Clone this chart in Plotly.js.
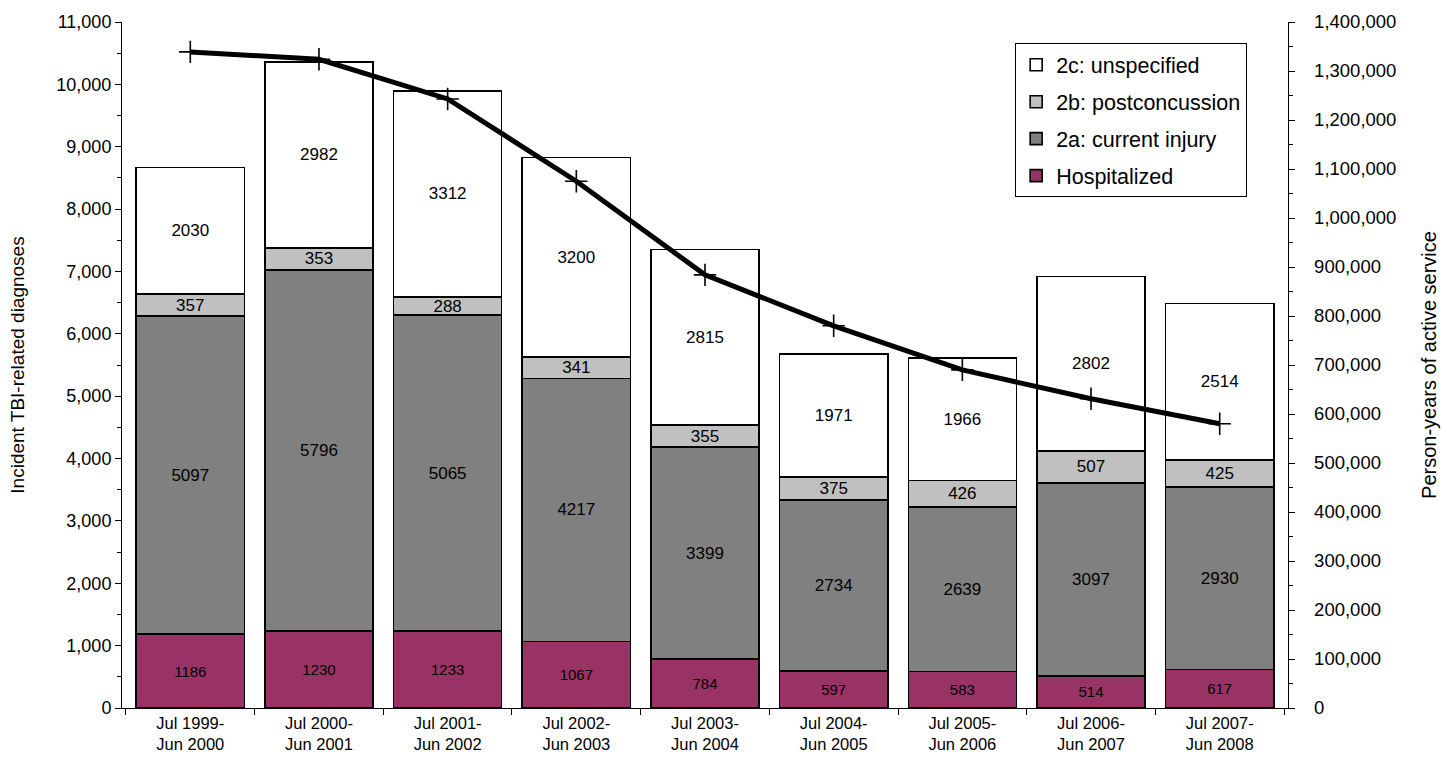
<!DOCTYPE html>
<html>
<head>
<meta charset="utf-8">
<script src="https://cdn.plot.ly/plotly-3.0.1.min.js"></script>
<style>html,body{margin:0;padding:0;background:#fff;}#chart{width:1442px;height:763px;}</style>
</head>
<body>
<div id="chart"></div>
<script>
var categories = ["Jul 1999-<br>Jun 2000","Jul 2000-<br>Jun 2001","Jul 2001-<br>Jun 2002","Jul 2002-<br>Jun 2003","Jul 2003-<br>Jun 2004","Jul 2004-<br>Jun 2005","Jul 2005-<br>Jun 2006","Jul 2006-<br>Jun 2007","Jul 2007-<br>Jun 2008"];
var hospitalized = [1186,1230,1233,1067,784,597,583,514,617];
var currentInjury = [5097,5796,5065,4217,3399,2734,2639,3097,2930];
var postconcussion = [357,353,288,341,355,375,426,507,425];
var unspecified = [2030,2982,3312,3200,2815,1971,1966,2802,2514];
var personYears = [1339000,1324000,1243000,1075000,884000,780000,690000,631000,580000];

var font = "Liberation Sans, Arial, sans-serif";
function barTrace(name, vals, color, fs, grp, rank){
  return {
    type:'bar', name:name, x:categories, y:vals, legendgroup:grp, legendrank:rank,
    marker:{color:color, line:{color:'#000', width:1.6}},
    text: vals.map(String), textposition:'inside', insidetextanchor:'middle',
    textangle:0, constraintext:'none',
    textfont:{family:font, size:fs, color:'#000'},
    hoverinfo:'y+name'
  };
}
var traces = [
  barTrace('Hospitalized', hospitalized, '#993366', 15, 'g1', 4),
  barTrace('2a: current injury', currentInjury, '#808080', 17, 'g2', 3),
  barTrace('2b: postconcussion', postconcussion, '#C0C0C0', 17, 'g3', 2),
  barTrace('2c: unspecified', unspecified, '#FFFFFF', 17, 'g4', 1),
  {
    type:'scatter', mode:'lines+markers', name:'Person-years', x:categories, y:personYears,
    yaxis:'y2', showlegend:false,
    line:{color:'#000', width:5},
    marker:{symbol:'cross-thin', size:16, color:'#000', line:{color:'#000', width:1.6}}
  }
];
var nb = '\u00a0';
var layout = {
  width:1442, height:763,
  margin:{l:122, r:154, t:22, b:55},
  barmode:'stack', bargap:0.16,
  paper_bgcolor:'#fff', plot_bgcolor:'#fff',
  font:{family:font, size:17, color:'#000'},
  showlegend:true,
  legend:{traceorder:'grouped', x:0.766, y:0.969, xanchor:'left', yanchor:'top',
    bordercolor:'#000', borderwidth:1, bgcolor:'#fff', font:{family:font, size:21.5},
    itemwidth:30, tracegroupgap:6},
  xaxis:{type:'category', showline:true, linecolor:'#000', linewidth:1, automargin:false,
    ticks:'outside', ticklen:6, tickcolor:'#000', tickson:'boundaries',
    tickfont:{family:font, size:16.5}, showgrid:false, zeroline:false},
  yaxis:{range:[0,11000], dtick:1000, tickformat:',d', showline:true, linecolor:'#000', linewidth:1,
    automargin:false, ticks:'outside', ticklen:6, tickcolor:'#000', showgrid:false, zeroline:false,
    minor:{dtick:500, ticks:'outside', ticklen:4, tickcolor:'#000', showgrid:false},
    tickfont:{family:font, size:18},
    title:{text:'Incident TBI-related diagnoses', font:{family:font, size:19}, standoff:26}},
  yaxis2:{overlaying:'y', side:'right', range:[0,1400000], dtick:100000, tickformat:',d',
    tickprefix: nb+nb+nb,
    automargin:false, showline:true, linecolor:'#000', linewidth:1, ticks:'outside', ticklen:6, tickcolor:'#000',
    showgrid:false, zeroline:false,
    minor:{dtick:50000, ticks:'outside', ticklen:4, tickcolor:'#000', showgrid:false},
    tickfont:{family:font, size:18.5},
    title:{text:'Person-years of active service', font:{family:font, size:20}, standoff:26}}
};
Plotly.newPlot('chart', traces, layout, {displayModeBar:false});
</script>
</body>
</html>
